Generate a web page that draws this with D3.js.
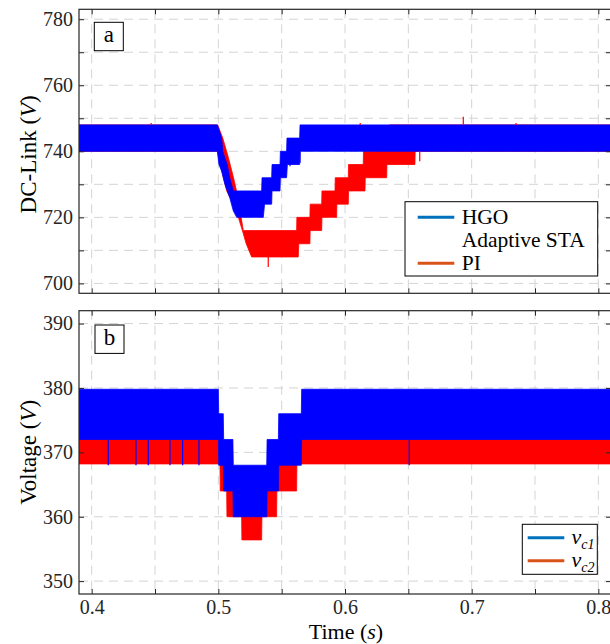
<!DOCTYPE html>
<html>
<head>
<meta charset="utf-8">
<script src="https://cdn.jsdelivr.net/npm/d3@7"></script>
<style>
  body { margin: 0; background: white; }
  svg text { font-family: "Liberation Serif", "DejaVu Serif", serif; }
</style>
</head>
<body>
<div id="chart"></div>
<script>
// ---- data ----
// time ticks (s)
const time_ticks = [0.40, 0.45, 0.50, 0.55, 0.60, 0.65, 0.70, 0.75, 0.80];
const time_labels = ["0.4", "0.5", "0.6", "0.7", "0.8"];
// panel a: DC-link voltage ticks
const dc_ticks = [700, 710, 720, 730, 740, 750, 760, 770, 780];
const dc_labels = ["700", "720", "740", "760", "780"];
// panel b: capacitor voltage ticks
const vc_ticks = [350, 360, 370, 380, 390];

// panel a, HGO Adaptive STA ripple envelope [t, V]
const dc_hgo_upper = [[0.39,748],[0.4992,748],[0.5026,744],[0.5035,740],[0.5052,738],[0.507,736],[0.509,732],[0.5118,728],
  [0.5342,728],[0.5345,732],[0.5421,732],[0.5424,736],[0.5487,736],[0.549,740],[0.5539,740],[0.5542,744],[0.5642,744],[0.5645,748],[0.81,748]];
const dc_hgo_lower = [[0.39,740],[0.4992,740],[0.5005,736],[0.5026,734],[0.5052,730],[0.509,726],[0.5118,722],[0.5145,720],
  [0.5355,720],[0.5365,724],[0.5421,724],[0.5424,728],[0.5487,728],[0.549,732],[0.5539,732],[0.5545,736],[0.5642,736],[0.5645,740],[0.81,740]];
// panel a, PI ripple envelope [t, V]
const dc_pi_upper = [[0.39,748],[0.4995,748],[0.5035,744],[0.508,738],[0.512,732],[0.5155,726],[0.518,720],[0.5197,716],
  [0.5618,716],[0.562,720],[0.5723,720],[0.5725,724],[0.5816,724],[0.5818,728],[0.5921,728],[0.5923,732],[0.6026,732],[0.6028,736],
  [0.6144,736],[0.6146,740],[0.625,740],[0.6252,744],[0.635,744],[0.6352,748],[0.81,748]];
const dc_pi_lower = [[0.39,740],[0.4995,740],[0.5015,736],[0.504,732],[0.5066,728],[0.5118,724],[0.5158,720],[0.519,716],[0.522,712],[0.5263,708],
  [0.5631,708],[0.5635,712],[0.5723,712],[0.5725,716],[0.5816,716],[0.5818,720],[0.5934,720],[0.5936,724],[0.6026,724],[0.6028,728],
  [0.6158,728],[0.616,732],[0.6329,732],[0.6331,736],[0.6552,736],[0.6554,740],[0.81,740]];
// isolated spikes [t, from V, to V]
const dc_hgo_spikes = [[0.5566,740,735.5],[0.5645,740,736.5]];
const dc_pi_spikes = [[0.6934,748,750.5],[0.5394,708,705],[0.659,740,737],[0.447,748,748.6],[0.612,748,748.6],[0.735,748,748.6]];

// panel b, v_c1 ripple envelope [t, V]
const vc1_upper = [[0.39,379.8],[0.5,379.8],[0.5003,376],[0.5039,376],[0.5042,372],[0.5115,372],[0.5118,368],[0.5382,368],
  [0.5385,372],[0.5474,372],[0.5477,376],[0.5655,376],[0.5658,379.8],[0.81,379.8]];
const vc1_lower = [[0.39,372],[0.5,372],[0.5003,368],[0.5039,368],[0.5042,364],[0.5115,364],[0.5118,360],[0.5382,360],
  [0.5385,364],[0.5474,364],[0.5477,368],[0.5655,368],[0.5658,372],[0.81,372]];
// panel b, v_c2 ripple envelope [t, V]
const vc2_upper = [[0.39,376],[0.5,376],[0.5013,372],[0.5066,368],[0.5184,364],[0.5342,364],[0.546,368],[0.5618,372],[0.5658,376],[0.81,376]];
const vc2_lower = [[0.39,368.2],[0.5013,368.2],[0.5015,364],[0.5066,364],[0.5068,360],[0.5184,360],[0.5186,356.4],[0.5342,356.4],
  [0.5344,360],[0.546,360],[0.5462,364],[0.5618,364],[0.562,368.2],[0.81,368.2]];
const vc1_spikes = [[0.4131,372,368],[0.435,372,368],[0.4447,372,368],[0.4618,372,368],[0.4718,372,368],[0.4847,372,368],[0.6507,372,368]];

const legend_a = ["HGO", "Adaptive STA", "PI"];

// ---- settings ----
const ttl_width = 610, ttl_height = 644;
const plot_left = 79, plot_right = 611;
const panel_a = {top: 9.3, bottom: 293.3};
const panel_b = {top: 310.7, bottom: 594};
const blue = "#0000ff", red = "#ff0000";
const axis_color = "#262626";
const serif = '"Liberation Serif", "DejaVu Serif", serif';

const svg = d3.select("#chart")
  .append("svg")
  .attr("width", ttl_width)
  .attr("height", ttl_height)
;

svg.append("rect")
  .attr("width", "100%")
  .attr("height", "100%")
  .attr("fill", "white")
;

const x = d3.scaleLinear().domain([0.39, 0.81]).range([plot_left, plot_right]);
const y_a = d3.scaleLinear().domain([697, 783]).range([panel_a.bottom, panel_a.top]);
const y_b = d3.scaleLinear().domain([348, 392]).range([panel_b.bottom, panel_b.top]);

const clip = svg.append("defs");
clip.append("clipPath").attr("id", "clip_a")
  .append("rect")
  .attr("x", plot_left).attr("y", panel_a.top)
  .attr("width", plot_right - plot_left).attr("height", panel_a.bottom - panel_a.top)
;
clip.append("clipPath").attr("id", "clip_b")
  .append("rect")
  .attr("x", plot_left).attr("y", panel_b.top)
  .attr("width", plot_right - plot_left).attr("height", panel_b.bottom - panel_b.top)
;

function band_path(y, upper, lower) {
  const line = d3.line().x(d => x(d[0])).y(d => y(d[1]));
  return line(upper.concat(lower.slice().reverse())) + "Z";
}

function draw_panel(y, panel, clip_id, yticks, ylabel_fn, bands, spikes, show_x_labels) {
  const g = svg.append("g");

  // grid
  const grid = g.append("g")
    .attr("stroke", "#d4d4d4")
    .attr("stroke-width", 1)
    .attr("stroke-dasharray", "9,6")
  ;
  grid.selectAll("line.vx")
    .data(time_ticks)
    .enter()
    .append("line")
    .attr("x1", d => x(d)).attr("x2", d => x(d))
    .attr("y1", panel.top).attr("y2", panel.bottom)
  ;
  grid.selectAll("line.hy")
    .data(yticks)
    .enter()
    .append("line")
    .attr("x1", plot_left).attr("x2", plot_right)
    .attr("y1", d => y(d)).attr("y2", d => y(d))
  ;

  // signal bands
  const data_g = g.append("g").attr("clip-path", "url(#" + clip_id + ")");
  bands.forEach(b => {
    data_g.append("path")
      .attr("d", band_path(y, b.upper, b.lower))
      .attr("fill", b.color)
      .attr("stroke", b.color)
      .attr("stroke-width", 0.8)
      .attr("stroke-linejoin", "miter")
    ;
  });
  spikes.forEach(s => {
    data_g.selectAll(null)
      .data(s.data)
      .enter()
      .append("line")
      .attr("x1", d => x(d[0])).attr("x2", d => x(d[0]))
      .attr("y1", d => y(d[1])).attr("y2", d => y(d[2]))
      .attr("stroke", s.color)
      .attr("stroke-width", 1.2)
    ;
  });

  // axes (ticks inward on all four sides)
  const xfmt = d => {
    const s = d3.format(".1f")(d);
    return show_x_labels && Math.abs(d * 10 - Math.round(d * 10)) < 1e-6 && time_labels.indexOf(s) >= 0 ? s : "";
  };
  const axes = [
    d3.axisBottom(x).tickValues(time_ticks).tickFormat(xfmt).tickSizeInner(-5).tickSizeOuter(0).tickPadding(6),
    d3.axisTop(x).tickValues(time_ticks).tickFormat("").tickSizeInner(-5).tickSizeOuter(0),
    d3.axisLeft(y).tickValues(yticks).tickFormat(ylabel_fn).tickSizeInner(-5).tickSizeOuter(0).tickPadding(6),
    d3.axisRight(y).tickValues(yticks).tickFormat("").tickSizeInner(-5).tickSizeOuter(0)
  ];
  const pos = ["translate(0," + panel.bottom + ")", "translate(0," + panel.top + ")",
    "translate(" + plot_left + ",0)", "translate(" + plot_right + ",0)"];
  axes.forEach((a, i) => {
    const ax = g.append("g").attr("transform", pos[i]).call(a);
    ax.attr("font-family", null).attr("font-size", null);
    ax.select(".domain").remove();
    ax.selectAll("line").attr("stroke", axis_color);
    ax.selectAll("text")
      .style("font-family", serif)
      .style("font-size", "20px")
      .attr("fill", axis_color)
    ;
  });

  g.append("rect")
    .attr("x", plot_left).attr("y", panel.top)
    .attr("width", plot_right - plot_left).attr("height", panel.bottom - panel.top)
    .attr("fill", "none")
    .attr("stroke", axis_color)
    .attr("stroke-width", 1.2)
  ;
  return g;
}

const g_a = draw_panel(y_a, panel_a, "clip_a", dc_ticks,
  d => dc_labels.indexOf(String(d)) >= 0 ? String(d) : "",
  [{upper: dc_pi_upper, lower: dc_pi_lower, color: red}, {upper: dc_hgo_upper, lower: dc_hgo_lower, color: blue}],
  [{data: dc_pi_spikes, color: red}, {data: dc_hgo_spikes, color: blue}],
  false);

const g_b = draw_panel(y_b, panel_b, "clip_b", vc_ticks,
  d => String(d),
  [{upper: vc2_upper, lower: vc2_lower, color: red}, {upper: vc1_upper, lower: vc1_lower, color: blue}],
  [{data: vc1_spikes, color: blue}],
  true);

// panel tags
function panel_tag(x0, y0, label) {
  svg.append("rect")
    .attr("x", x0).attr("y", y0)
    .attr("width", 29).attr("height", 28.4)
    .attr("fill", "white")
    .attr("stroke", "black")
    .attr("stroke-width", 1)
  ;
  svg.append("text")
    .attr("x", x0 + 14.5).attr("y", y0 + 19.5)
    .attr("text-anchor", "middle")
    .attr("font-size", 23)
    .text(label)
  ;
}
panel_tag(94.3, 22.3, "a");
panel_tag(95, 325, "b");

// axis titles
const ylab_a = svg.append("text")
  .attr("transform", "translate(36," + ((panel_a.top + panel_a.bottom) / 2 + 3) + ") rotate(-90)")
  .attr("text-anchor", "middle")
  .attr("font-size", 23)
;
ylab_a.append("tspan").text("DC-Link (");
ylab_a.append("tspan").attr("font-style", "italic").text("V");
ylab_a.append("tspan").text(")");

const ylab_b = svg.append("text")
  .attr("transform", "translate(36," + ((panel_b.top + panel_b.bottom) / 2) + ") rotate(-90)")
  .attr("text-anchor", "middle")
  .attr("font-size", 23)
;
ylab_b.append("tspan").text("Voltage (");
ylab_b.append("tspan").attr("font-style", "italic").text("V");
ylab_b.append("tspan").text(")");

const xlab = svg.append("text")
  .attr("x", 346).attr("y", 639)
  .attr("text-anchor", "middle")
  .attr("font-size", 22)
;
xlab.append("tspan").text("Time (");
xlab.append("tspan").attr("font-style", "italic").text("s");
xlab.append("tspan").text(")");

// legend a
const leg_a = svg.append("g");
leg_a.append("rect")
  .attr("x", 405).attr("y", 201.7)
  .attr("width", 192.7).attr("height", 74.3)
  .attr("fill", "white")
  .attr("stroke", "black")
  .attr("stroke-width", 1)
;
[{y: 217.3, color: "#0072bd"}, {y: 263.3, color: "#d95319"}].forEach(l => {
  leg_a.append("line")
    .attr("x1", 417.7).attr("x2", 454.3)
    .attr("y1", l.y).attr("y2", l.y)
    .attr("stroke", l.color)
    .attr("stroke-width", 3)
  ;
});
leg_a.selectAll("text")
  .data(legend_a)
  .enter()
  .append("text")
  .attr("x", 461.7)
  .attr("y", (d, i) => 224 + i * 23)
  .attr("font-size", 21.5)
  .text(d => d)
;

// legend b
const leg_b = svg.append("g");
leg_b.append("rect")
  .attr("x", 522.3).attr("y", 524.3)
  .attr("width", 75).attr("height", 50)
  .attr("fill", "white")
  .attr("stroke", "black")
  .attr("stroke-width", 1)
;
[{y: 537.7, color: "#0072bd", sub: "c1"}, {y: 560.7, color: "#d95319", sub: "c2"}].forEach(l => {
  leg_b.append("line")
    .attr("x1", 527.7).attr("x2", 564.3)
    .attr("y1", l.y).attr("y2", l.y)
    .attr("stroke", l.color)
    .attr("stroke-width", 3)
  ;
  const t = leg_b.append("text")
    .attr("x", 571.5).attr("y", l.y + 6)
    .attr("font-size", 22)
    .attr("font-style", "italic")
  ;
  t.append("tspan").text("v");
  t.append("tspan").attr("font-size", 14).attr("dy", 5).text(l.sub);
});
</script>
</body>
</html>
